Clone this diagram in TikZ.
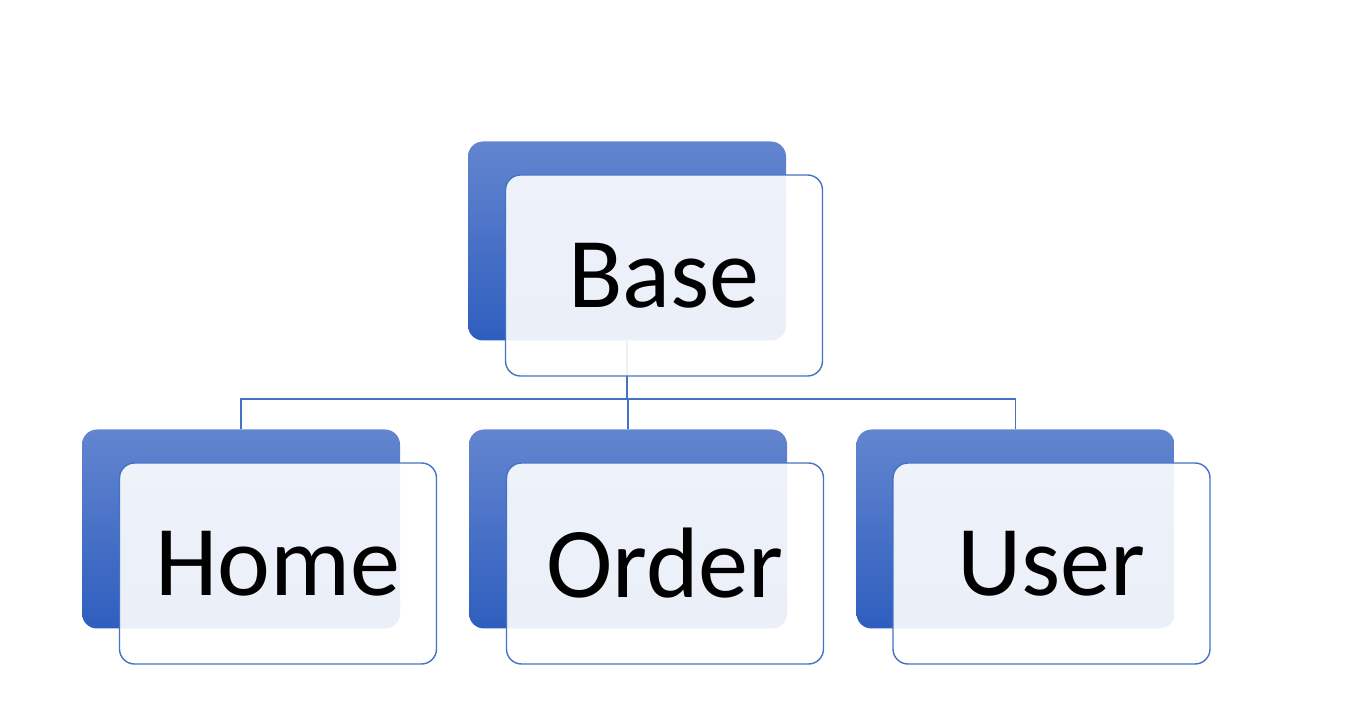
\documentclass[tikz,border=0pt]{standalone}
\usepackage{fontspec}
\setmainfont{Carlito}
\definecolor{boxblue}{RGB}{68,114,196}
\definecolor{shadetop}{RGB}{99,133,207}
\definecolor{shadebot}{RGB}{46,94,190}
\tikzset{
  backbox/.style={rectangle, rounded corners=0.3cm, minimum width=6.36cm, minimum height=3.98cm,
    top color=shadetop, bottom color=shadebot, draw=none, inner sep=0pt},
  frontbox/.style={rectangle, rounded corners=0.3cm, minimum width=6.34cm, minimum height=4.02cm,
    draw=boxblue, line width=0.8pt, fill=white, fill opacity=0.9, text opacity=1,
    font=\fontsize{57}{60}\selectfont, inner sep=0pt},
  link/.style={draw=boxblue, line width=0.8pt}
}
\begin{document}
\begin{tikzpicture}[]
            \useasboundingbox (0,0) rectangle (27.32,-14.44);
            % blue boxes at the back
            \node[backbox] (base) at (12.54,-4.82) {};
            \node[backbox] (home) at (4.82,-10.58) {};
            \node[backbox] (order) at (12.56,-10.58) {};
            \node[backbox] (user) at (20.31,-10.58) {};
            % tree lines
            \draw[link] (base.south) -- ++(0,-1.16) -| (home.north);
            \draw[link] (base.south) -- ++(0,-1.16) -| (order.north);
            \draw[link] (base.south) -- ++(0,-1.16) -| (user.north);
            % light boxes in front
            \node[frontbox] (basetext) at ([shift={(0.74,-0.69)}]base.center) {Base};
            \node[frontbox] (hometext) at ([shift={(0.74,-0.69)}]home.center) {Home};
            \node[frontbox] (ordertext) at ([shift={(0.74,-0.69)}]order.center) {Order};
            \node[frontbox] (usertext) at ([shift={(0.72,-0.69)}]user.center) {User};
            \end{tikzpicture}
\end{document}
